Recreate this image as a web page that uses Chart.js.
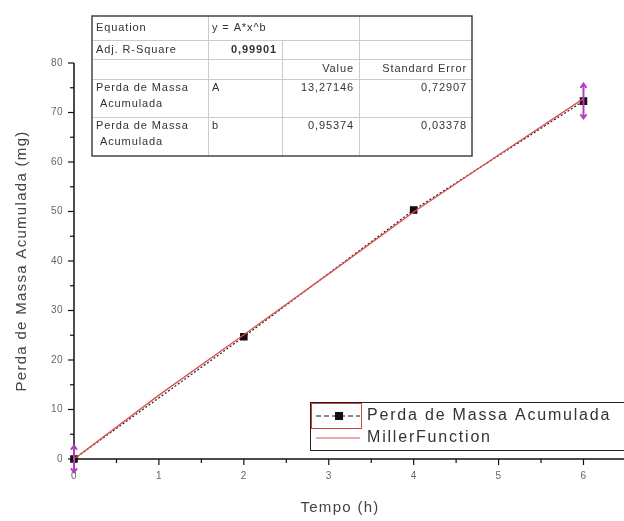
<!DOCTYPE html>
<html>
<head>
<meta charset="utf-8">
<script src="https://cdn.jsdelivr.net/npm/chart.js@4"></script>
<style>
  html,body{margin:0;padding:0;background:#fff}
  #wrap{width:624px;height:521px;position:relative}
</style>
</head>
<body>
<div id="wrap"><canvas id="chart" width="624" height="521"></canvas></div>
<script>
/* data */
const tempo=[0,2,4,6];
const perda=[0,24.7,50.3,72.3];
const perdaErr=[2.7,0,0,3.5];
const fitX=[0,1,2,3,4,5,6];
const fitY=[0,12.9,25.1,37.4,49.9,61.4,72.8];
const xTicks=[0,1,2,3,4,5,6];
const yTicks=[0,10,20,30,40,50,60,70,80];

const tableRows=[
  ["Equation","y = A*x^b","",""],
  ["Adj. R-Square","0,99901","",""],
  ["","","Value","Standard Error"],
  ["Perda de Massa\n Acumulada","A","13,27146","0,72907"],
  ["Perda de Massa\n Acumulada","b","0,95374","0,03378"]
];

const FONT='"Liberation Sans", Arial, sans-serif';

/* axes, ticks, titles */
const axesPlugin={
  id:"axes",
  afterDatasetsDraw(c){
    const g=c.ctx, xs=c.scales.x, ys=c.scales.y;
    const x0=xs.getPixelForValue(0), y0=ys.getPixelForValue(0);
    const yTop=ys.getPixelForValue(80), xRight=c.width;
    g.save();
    g.strokeStyle="#111";g.lineWidth=1.5;
    g.beginPath();g.moveTo(x0,yTop);g.lineTo(x0,y0);g.moveTo(x0,y0);g.lineTo(xRight,y0);g.stroke();
    g.lineWidth=1.2;
    // x ticks
    for(let v=0;v<=7;v+=0.5){
      const p=xs.getPixelForValue(v);if(p>xRight)break;
      const major=Number.isInteger(v);
      g.beginPath();g.moveTo(p,y0);g.lineTo(p,y0+(major?6:4));g.stroke();
    }
    // y ticks
    for(let v=0;v<=80;v+=5){
      const p=ys.getPixelForValue(v);
      const major=v%10===0;
      g.beginPath();g.moveTo(x0,p);g.lineTo(x0-(major?6:4),p);g.stroke();
    }
    g.fillStyle="#666";g.font="10px "+FONT;g.letterSpacing="0.5px";
    g.textAlign="center";g.textBaseline="middle";
    xTicks.forEach(v=>g.fillText(String(v),xs.getPixelForValue(v),y0+17));
    g.textAlign="right";
    yTicks.forEach(v=>g.fillText(String(v),x0-11,ys.getPixelForValue(v)));
    g.fillStyle="#444";g.font="15px "+FONT;g.letterSpacing="1.3px";g.textAlign="center";
    g.fillText("Tempo (h)",340,508);
    g.translate(22,261);g.rotate(-Math.PI/2);
    g.fillText("Perda de Massa Acumulada (mg)",0,0);
    g.restore();
  }
};

/* error bars on the measured series */
const errPlugin={
  id:"errbars",
  afterDatasetsDraw(c){
    const g=c.ctx, xs=c.scales.x, ys=c.scales.y;
    g.save();g.strokeStyle="#b040c0";g.lineWidth=2;
    tempo.forEach((t,i)=>{
      const e=perdaErr[i];if(!e)return;
      const px=xs.getPixelForValue(t);
      const top=ys.getPixelForValue(perda[i]+e), bot=ys.getPixelForValue(perda[i]-e);
      g.beginPath();g.moveTo(px,top);g.lineTo(px,bot);g.stroke();
      g.beginPath();g.moveTo(px-3,top+4);g.lineTo(px,top);g.lineTo(px+3,top+4);g.stroke();
      g.beginPath();g.moveTo(px-3,bot-4);g.lineTo(px,bot);g.lineTo(px+3,bot-4);g.stroke();
    });
    g.restore();
  }
};

/* fit results table + legend box */
const boxesPlugin={
  id:"boxes",
  afterDraw(c){
    const g=c.ctx;
    g.save();
    const cols=[92,208,282,359,472], rows=[16,40,59,79,117,156];
    g.fillStyle="#fff";g.fillRect(92,16,380,140);
    g.strokeStyle="#ccc";g.lineWidth=1;
    for(let r=1;r<rows.length-1;r++){g.beginPath();g.moveTo(92,rows[r]+0.5);g.lineTo(472,rows[r]+0.5);g.stroke();}
    g.beginPath();
    g.moveTo(208.5,16);g.lineTo(208.5,156);
    g.moveTo(282.5,40);g.lineTo(282.5,156);
    g.moveTo(359.5,16);g.lineTo(359.5,156);
    g.stroke();
    g.strokeStyle="#444";g.lineWidth=1.5;g.strokeRect(92,16,380,140);
    g.fillStyle="#333";g.textBaseline="middle";g.letterSpacing="0.9px";
    tableRows.forEach((row,r)=>{
      const yc=(rows[r]+rows[r+1])/2;
      row.forEach((txt,k)=>{
        if(!txt)return;
        const lines=txt.split("\n");
        const right=(r>=2&&k>=2)||(r===1&&k===1);
        g.textAlign=right?"right":"left";
        g.font=(r===1&&k===1?"bold ":"")+"11px "+FONT;
        const xp=right?cols[k+1]-5:cols[k]+4;
        if(lines.length>1){
          g.fillText(lines[0],xp,rows[r]+9);g.fillText(lines[1],xp,rows[r]+25);
        }else{
          g.fillText(txt,xp,(r>=3)?rows[r]+9:yc);
        }
      });
    });
    // legend
    g.letterSpacing="0px";
    g.fillStyle="#fff";g.fillRect(310,402,320,48);
    g.strokeStyle="#222";g.lineWidth=1;g.strokeRect(310.5,402.5,320,48);
    g.strokeStyle="#d04040";g.strokeRect(311.5,403.5,50,25);
    g.strokeStyle="#111";g.lineWidth=1;g.setLineDash([5,3]);
    g.beginPath();g.moveTo(316,416);g.lineTo(360,416);g.stroke();g.setLineDash([]);
    g.fillStyle="#111";g.fillRect(335,412,8,8);
    g.strokeStyle="#e05050";g.lineWidth=1.2;
    g.beginPath();g.moveTo(316,438);g.lineTo(360,438);g.stroke();
    g.fillStyle="#333";g.font="16px "+FONT;g.letterSpacing="1.8px";g.textAlign="left";g.textBaseline="middle";
    g.fillText("Perda de Massa Acumulada",367,416);
    g.fillText("MillerFunction",367,438);
    g.restore();
  }
};

const ctx=document.getElementById("chart");
new Chart(ctx,{
  type:"scatter",
  data:{
    datasets:[
      {
        label:"MillerFunction",
        data:fitX.map((x,i)=>({x,y:fitY[i]})),
        showLine:true,borderColor:"#e05050",borderWidth:1.3,pointRadius:0,tension:0,clip:false
      },
      {
        label:"Perda de Massa Acumulada",
        data:tempo.map((x,i)=>({x,y:perda[i]})),
        showLine:true,borderColor:"#222",borderWidth:1.2,borderDash:[2,2],
        pointStyle:"rect",pointRadius:4.5,pointBackgroundColor:"#1a0a14",pointBorderColor:"#1a0a14",clip:false
      }
    ]
  },
  options:{
    responsive:false,animation:false,
    layout:{padding:{left:74,top:63,right:0,bottom:62}},
    plugins:{legend:{display:false},tooltip:{enabled:false}},
    scales:{
      x:{type:"linear",min:0,max:6.41,display:false},
      y:{type:"linear",min:0,max:80,display:false}
    }
  },
  plugins:[axesPlugin,errPlugin,boxesPlugin]
});
</script>
</body>
</html>
